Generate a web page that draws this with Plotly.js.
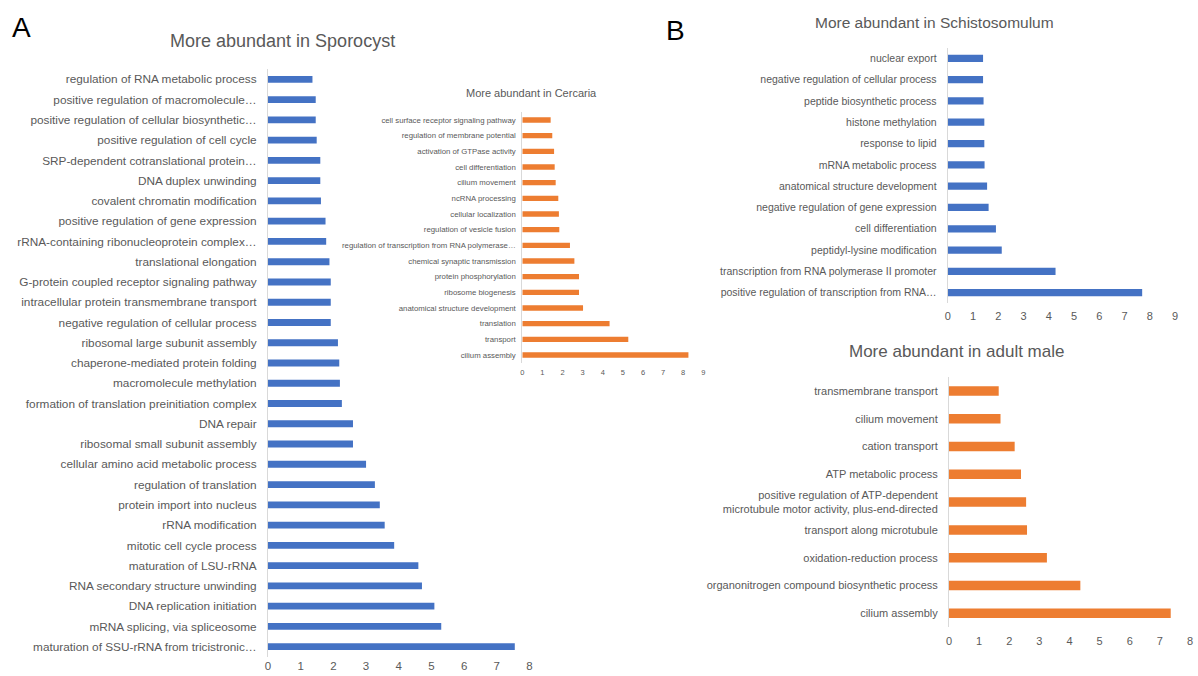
<!DOCTYPE html>
<html>
<head>
<meta charset="utf-8">
<script src="https://cdn.plot.ly/plotly-3.0.1.min.js"></script>
<style>html,body{margin:0;padding:0;background:#fff;} #chart{width:1198px;height:676px;}</style>
</head>
<body>
<div id="chart"></div>
<script>
// ---- Data (top-to-bottom order as shown) ----
const sporoLabels = [
  "regulation of RNA metabolic process",
  "positive regulation of macromolecule…",
  "positive regulation of cellular biosynthetic…",
  "positive regulation of cell cycle",
  "SRP-dependent cotranslational protein…",
  "DNA duplex unwinding",
  "covalent chromatin modification",
  "positive regulation of gene expression",
  "rRNA-containing ribonucleoprotein complex…",
  "translational elongation",
  "G-protein coupled receptor signaling pathway",
  "intracellular protein transmembrane transport",
  "negative regulation of cellular process",
  "ribosomal large subunit assembly",
  "chaperone-mediated protein folding",
  "macromolecule methylation",
  "formation of translation preinitiation complex",
  "DNA repair",
  "ribosomal small subunit assembly",
  "cellular amino acid metabolic process",
  "regulation of translation",
  "protein import into nucleus",
  "rRNA modification",
  "mitotic cell cycle process",
  "maturation of LSU-rRNA",
  "RNA secondary structure unwinding",
  "DNA replication initiation",
  "mRNA splicing, via spliceosome",
  "maturation of SSU-rRNA from tricistronic…"
];
const sporoValues = [1.36, 1.46, 1.46, 1.49, 1.6, 1.6, 1.62, 1.76, 1.78, 1.88, 1.92, 1.92, 1.92, 2.14,
  2.18, 2.2, 2.26, 2.6, 2.6, 3.0, 3.27, 3.42, 3.57, 3.86, 4.6, 4.71, 5.09, 5.3, 7.55];

const cercLabels = [
  "cell surface receptor signaling pathway",
  "regulation of membrane potential",
  "activation of GTPase activity",
  "cell differentiation",
  "cilium movement",
  "ncRNA processing",
  "cellular localization",
  "regulation of vesicle fusion",
  "regulation of transcription from RNA polymerase…",
  "chemical synaptic transmission",
  "protein phosphorylation",
  "ribosome biogenesis",
  "anatomical structure development",
  "translation",
  "transport",
  "cilium assembly"
];
const cercValues = [1.41, 1.49, 1.58, 1.61, 1.66, 1.79, 1.82, 1.84, 2.37, 2.59, 2.82, 2.82, 3.02, 4.34, 5.27, 8.26];

const schistoLabels = [
  "nuclear export",
  "negative regulation of cellular process",
  "peptide biosynthetic process",
  "histone methylation",
  "response to lipid",
  "mRNA metabolic process",
  "anatomical structure development",
  "negative regulation of gene expression",
  "cell differentiation",
  "peptidyl-lysine modification",
  "transcription from RNA polymerase II promoter",
  "positive regulation of transcription from RNA…"
];
const schistoValues = [1.4, 1.4, 1.42, 1.45, 1.45, 1.46, 1.56, 1.62, 1.91, 2.14, 4.27, 7.7];

const maleLabels = [
  "transmembrane transport",
  "cilium movement",
  "cation transport",
  "ATP metabolic process",
  "positive regulation of ATP-dependent<br>microtubule motor activity, plus-end-directed",
  "transport along microtubule",
  "oxidation-reduction process",
  "organonitrogen compound biosynthetic process",
  "cilium assembly"
];
const maleValues = [1.65, 1.71, 2.18, 2.39, 2.56, 2.59, 3.25, 4.36, 7.36];

const titles = {
  sporo: "More abundant in Sporocyst",
  cerc: "More abundant in Cercaria",
  schisto: "More abundant in Schistosomulum",
  male: "More abundant in adult male"
};
const panelLetters = ["A", "B"];

// ---- Styling ----
const BLUE = "#4472C4", ORANGE = "#ED7D31", GREY = "#595959";
const FONT = "Liberation Sans, Arial, sans-serif";
const W = 1198, H = 676;
const px = v => v / W;
const py = v => 1 - v / H;

function bar(x, y, color, xa, ya) {
  return {type: "bar", orientation: "h", x: x, y: y, xaxis: xa, yaxis: ya,
    marker: {color: color}, hoverinfo: "x+y", showlegend: false};
}

const data = [
  bar(sporoValues, sporoLabels, BLUE, "x", "y"),
  bar(cercValues, cercLabels, ORANGE, "x2", "y2"),
  bar(schistoValues, schistoLabels, BLUE, "x3", "y3"),
  bar(maleValues, maleLabels, ORANGE, "x4", "y4")
];

function xax(domain, max, anchor, fs, standoff) {
  return {domain: domain, range: [0, max], dtick: 1, tick0: 0, anchor: anchor,
    showgrid: false, zeroline: false, showline: false, ticks: "", ticklabelstandoff: standoff,
    tickfont: {family: FONT, size: fs, color: GREY}, fixedrange: true};
}
function yax(domain, anchor, fs, standoff) {
  return {domain: domain, anchor: anchor, type: "category", autorange: "reversed",
    showgrid: false, zeroline: false, showline: true, linecolor: "#d9d9d9", linewidth: 1,
    ticks: "", ticklabelstandoff: standoff,
    tickfont: {family: FONT, size: fs, color: GREY}, fixedrange: true};
}

const layout = {
  width: W, height: H,
  margin: {l: 0, r: 0, t: 0, b: 0},
  paper_bgcolor: "#fff", plot_bgcolor: "rgba(0,0,0,0)",
  bargap: 0.66,
  showlegend: false,
  xaxis: xax([px(268), px(529.5)], 8, "y", 11.5, 1),
  yaxis: yax([py(656.8), py(69.2)], "x", 11.8, 8),
  xaxis2: xax([px(522.3), px(703.3)], 9, "y2", 7.5, 4),
  yaxis2: yax([py(362.8), py(112.2)], "x2", 7.8, 4),
  xaxis3: xax([px(947.7), px(1175)], 9, "y3", 11, 5),
  yaxis3: yax([py(303.4), py(47.6)], "x3", 10.5, 8),
  xaxis4: xax([px(949), px(1190)], 8, "y4", 11, 6),
  yaxis4: yax([py(627.2), py(377)], "x4", 11, 8),
  annotations: [
    {text: titles.sporo, x: px(282.5), y: py(41.5), xref: "paper", yref: "paper", showarrow: false,
      font: {family: FONT, size: 18, color: GREY}, xanchor: "center", yanchor: "middle"},
    {text: titles.cerc, x: px(531), y: py(93), xref: "paper", yref: "paper", showarrow: false,
      font: {family: FONT, size: 11, color: GREY}, xanchor: "center", yanchor: "middle"},
    {text: titles.schisto, x: px(934.5), y: py(22), xref: "paper", yref: "paper", showarrow: false,
      font: {family: FONT, size: 15.5, color: GREY}, xanchor: "center", yanchor: "middle"},
    {text: titles.male, x: px(956), y: py(351), xref: "paper", yref: "paper", showarrow: false,
      font: {family: FONT, size: 17, color: GREY}, xanchor: "center", yanchor: "middle"},
    {text: panelLetters[0], x: px(21), y: py(28), xref: "paper", yref: "paper", showarrow: false,
      font: {family: FONT, size: 28, color: "#000"}, xanchor: "center", yanchor: "middle"},
    {text: panelLetters[1], x: px(675), y: py(30), xref: "paper", yref: "paper", showarrow: false,
      font: {family: FONT, size: 28, color: "#000"}, xanchor: "center", yanchor: "middle"}
  ]
};

Plotly.newPlot("chart", data, layout, {displayModeBar: false, staticPlot: true});
</script>
</body>
</html>
